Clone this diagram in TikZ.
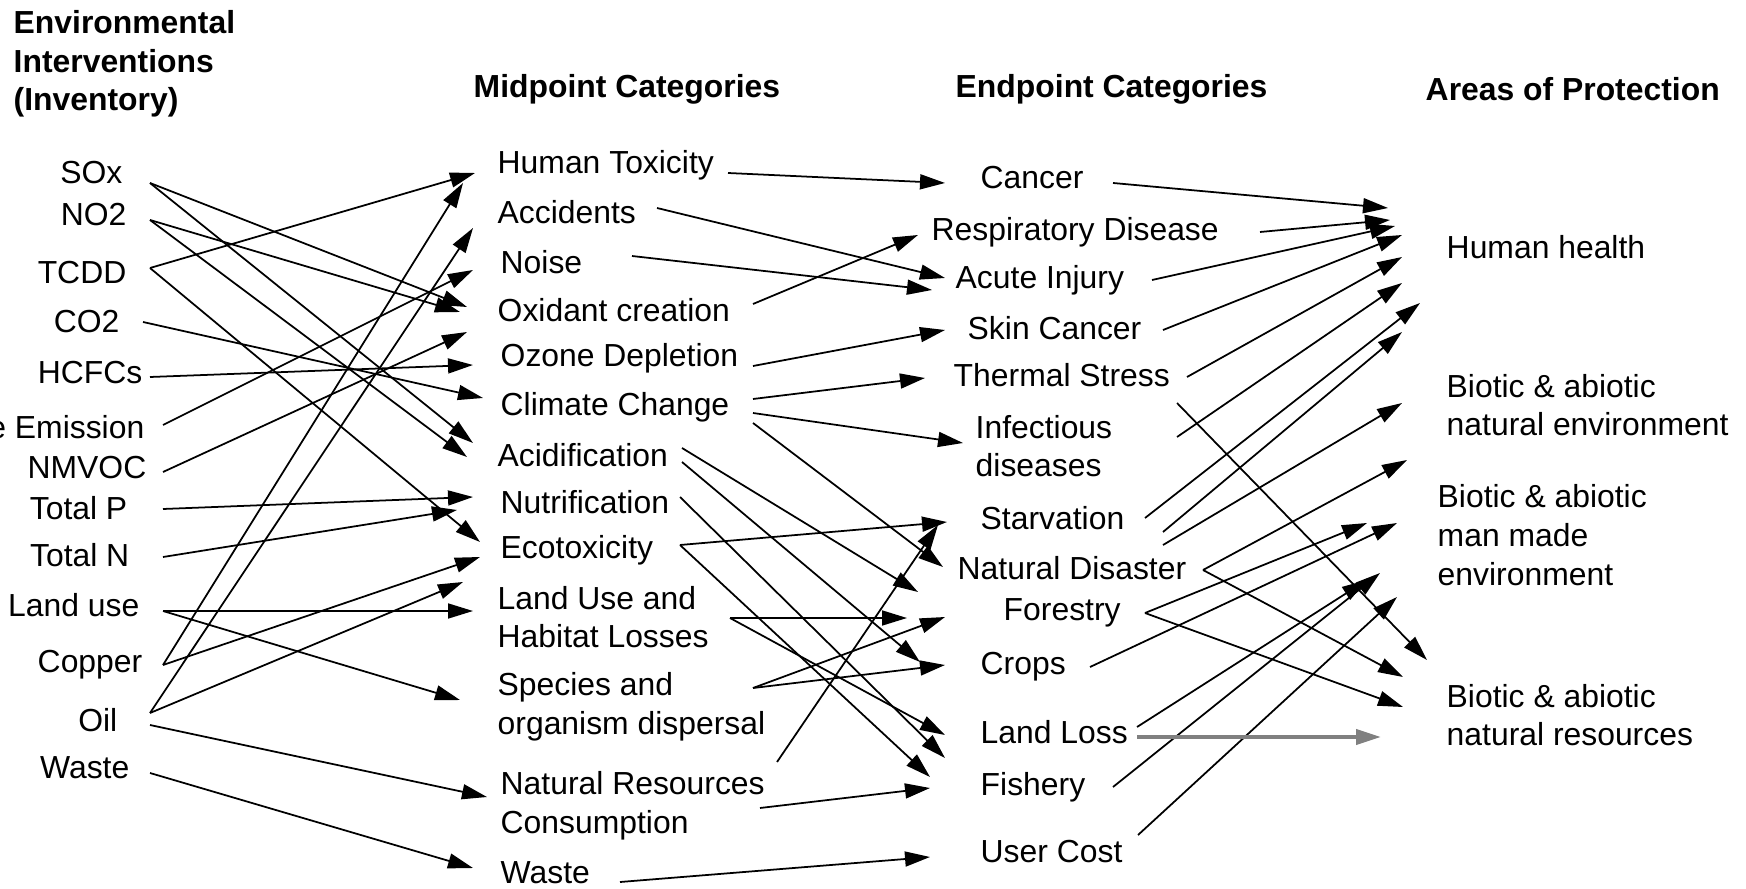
\documentclass[tikz,border=0pt]{standalone}
\usepackage{fontspec}
\setmainfont{Liberation Sans}
\usetikzlibrary{arrows.meta,calc}

\begin{document}
\begin{tikzpicture}[x=0.1mm,y=-0.1mm,
  font=\fontsize{9.07}{11}\selectfont,
  lbl/.style={inner sep=0pt,align=left},
  head/.style={inner sep=0pt,align=left,font=\fontsize{9.07}{11}\selectfont\bfseries},
  arr/.style={-{Triangle[length=2.5mm,width=1.5mm]},line width=0.5pt}]
\useasboundingbox (0,0) rectangle (1746,889);

% headings
\node[head,anchor=west] (invhead) at (13,64) {Environmental\\Interventions\\(Inventory)};
\node[head,anchor=west] (midhead) at (473,89) {Midpoint Categories};
\node[head,anchor=west] (endhead) at (955,89) {Endpoint Categories};
\node[head,anchor=west] (aophead) at (1425,89) {Areas of Protection};

% inventory
\node[lbl,anchor=east] (sox) at (123,173) {SOx};
\node[lbl,anchor=east] (notwo) at (127,215) {NO2};
\node[lbl,anchor=east] (tcdd) at (127,273) {TCDD};
\node[lbl,anchor=east] (cotwo) at (120,322) {CO2};
\node[lbl,anchor=east] (hcfc) at (143,373) {HCFCs};
\node[lbl,anchor=east] (noiseem) at (145,427) {e Emission};
\node[lbl,anchor=east] (nmvoc) at (147,468) {NMVOC};
\node[lbl,anchor=east] (totp) at (128,508) {Total P};
\node[lbl,anchor=east] (totn) at (130,555) {Total N};
\node[lbl,anchor=east] (landuse) at (140,605) {Land use};
\node[lbl,anchor=east] (copper) at (143,665) {Copper};
\node[lbl,anchor=east] (oil) at (118,720) {Oil};
\node[lbl,anchor=east] (wastein) at (130,768) {Waste};

% midpoints
\node[lbl,anchor=west] (ht) at (497,165) {Human Toxicity};
\node[lbl,anchor=west] (acc) at (497,212) {Accidents};
\node[lbl,anchor=west] (noise) at (500,262) {Noise};
\node[lbl,anchor=west] (oxid) at (497,310) {Oxidant creation};
\node[lbl,anchor=west] (ozone) at (500,358) {Ozone Depletion};
\node[lbl,anchor=west] (climate) at (500,407) {Climate Change};
\node[lbl,anchor=west] (acid) at (497,455) {Acidification};
\node[lbl,anchor=west] (nutri) at (500,502) {Nutrification};
\node[lbl,anchor=west] (ecotox) at (500,550) {Ecotoxicity};
\node[lbl,anchor=west] (luse) at (497,617) {Land Use and\\Habitat Losses};
\node[lbl,anchor=west] (species) at (497,707) {Species and\\organism dispersal};
\node[lbl,anchor=west] (natres) at (500,806) {Natural Resources\\Consumption};
\node[lbl,anchor=west] (wastemid) at (500,873) {Waste};

% endpoints
\node[lbl,anchor=west] (cancer) at (980,178) {Cancer};
\node[lbl,anchor=west] (resp) at (931,232) {Respiratory Disease};
\node[lbl,anchor=west] (acute) at (955,280) {Acute Injury};
\node[lbl,anchor=west] (skin) at (967,328) {Skin Cancer};
\node[lbl,anchor=west] (thermal) at (953,375) {Thermal Stress};
\node[lbl,anchor=west] (infect) at (975,446) {Infectious\\diseases};
\node[lbl,anchor=west] (starv) at (980,518) {Starvation};
\node[lbl,anchor=west] (natdis) at (957,568) {Natural Disaster};
\node[lbl,anchor=west] (forestry) at (1003,613) {Forestry};
\node[lbl,anchor=west] (crops) at (980,667) {Crops};
\node[lbl,anchor=west] (landloss) at (980,732) {Land Loss};
\node[lbl,anchor=west] (fishery) at (980,787) {Fishery};
\node[lbl,anchor=west] (usercost) at (980,852) {User Cost};

% areas of protection
\node[lbl,anchor=west] (hh) at (1446,247) {Human health};
\node[lbl,anchor=west] (natenv) at (1446,405) {Biotic \& abiotic\\natural environment};
\node[lbl,anchor=west] (manmade) at (1437,535) {Biotic \& abiotic\\man made\\environment};
\node[lbl,anchor=west] (natres4) at (1446,715) {Biotic \& abiotic\\natural resources};

% inventory -> midpoints
\draw[arr] ($(sox.east)+(27,10)$) -- ($(oxid.west)+(-30,-3)$);
\draw[arr] ($(sox.east)+(27,10)$) -- ($(acid.west)+(-24,-12)$);
\draw[arr] ($(notwo.east)+(23,5)$) -- ($(oxid.west)+(-37,2)$);
\draw[arr] ($(notwo.east)+(23,5)$) -- ($(acid.west)+(-30,2)$);
\draw[arr] ($(tcdd.east)+(23,-5)$) -- ($(ht.west)+(-22,8)$);
\draw[arr] ($(tcdd.east)+(23,-5)$) -- ($(ecotox.west)+(-20,-8)$);
\draw[arr] ($(cotwo.east)+(23,0)$) -- ($(climate.west)+(-17,-9)$);
\draw[arr] ($(hcfc.east)+(7,4)$) -- ($(ozone.west)+(-27,7)$);
\draw[arr] ($(noiseem.east)+(18,-2)$) -- ($(noise.west)+(-27,8)$);
\draw[arr] ($(nmvoc.east)+(16,4)$) -- ($(oxid.west)+(-30,22)$);
\draw[arr] ($(totp.east)+(35,1)$) -- ($(nutri.west)+(-27,-5)$);
\draw[arr] ($(totn.east)+(33,2)$) -- ($(nutri.west)+(-43,8)$);
\draw[arr] ($(landuse.east)+(23,6)$) -- ($(luse.west)+(-24,-6)$);
\draw[arr] ($(landuse.east)+(23,6)$) -- ($(species.west)+(-37,-7)$);
\draw[arr] ($(copper.east)+(20,0)$) -- ($(ht.west)+(-34,18)$);
\draw[arr] ($(copper.east)+(20,0)$) -- ($(ecotox.west)+(-20,7)$);
\draw[arr] ($(oil.east)+(32,-7)$) -- ($(acc.west)+(-24,16)$);
\draw[arr] ($(oil.east)+(32,-7)$) -- ($(ecotox.west)+(-37,32)$);
\draw[arr] ($(oil.east)+(32,5)$) -- ($(natres.west)+(-13,-9)$);
\draw[arr] ($(wastein.east)+(20,5)$) -- ($(wastemid.west)+(-27,-5)$);

% midpoints -> endpoints
\draw[arr] ($(ht.west)+(231,8)$) -- ($(cancer.west)+(-35,5)$);
\draw[arr] ($(acc.west)+(160,-4)$) -- ($(acute.west)+(-10,-2)$);
\draw[arr] ($(noise.west)+(132,-6)$) -- ($(acute.west)+(-23,10)$);
\draw[arr] ($(oxid.west)+(256,-6)$) -- ($(resp.west)+(-13,3)$);
\draw[arr] ($(ozone.west)+(253,8)$) -- ($(skin.west)+(-22,2)$);
\draw[arr] ($(climate.west)+(253,-8)$) -- ($(thermal.west)+(-28,3)$);
\draw[arr] ($(climate.west)+(253,6)$) -- ($(infect.west)+(-12,-3)$);
\draw[arr] ($(climate.west)+(253,16)$) -- ($(natdis.west)+(-14,-1)$);
\draw[arr] ($(acid.west)+(185,-7)$) -- ($(natdis.west)+(-39,24)$);
\draw[arr] ($(acid.west)+(185,7)$) -- ($(crops.west)+(-60,-5)$);
\draw[arr] ($(nutri.west)+(180,-5)$) -- ($(fishery.west)+(-35,-29)$);
\draw[arr] ($(ecotox.west)+(180,-5)$) -- ($(starv.west)+(-33,4)$);
\draw[arr] ($(ecotox.west)+(180,-5)$) -- ($(fishery.west)+(-50,-10)$);
\draw[arr] ($(luse.west)+(233,1)$) -- ($(forestry.west)+(-96,5)$);
\draw[arr] ($(luse.west)+(233,1)$) -- ($(landloss.west)+(-35,3)$);
\draw[arr] ($(species.west)+(256,-19)$) -- ($(forestry.west)+(-58,4)$);
\draw[arr] ($(species.west)+(256,-19)$) -- ($(crops.west)+(-35,-2)$);
\draw[arr] ($(natres.west)+(277,-44)$) -- ($(starv.west)+(-42,7)$);
\draw[arr] ($(natres.west)+(260,2)$) -- ($(fishery.west)+(-50,1)$);
\draw[arr] ($(wastemid.west)+(120,9)$) -- ($(usercost.west)+(-50,5)$);

% endpoints -> areas of protection
\draw[arr] ($(cancer.west)+(133,5)$) -- ($(hh.west)+(-58,-39)$);
\draw[arr] ($(resp.west)+(329,0)$) -- ($(hh.west)+(-56,-27)$);
\draw[arr] ($(acute.west)+(197,0)$) -- ($(hh.west)+(-51,-21)$);
\draw[arr] ($(skin.west)+(196,2)$) -- ($(hh.west)+(-44,-12)$);
\draw[arr] ($(thermal.west)+(234,2)$) -- ($(hh.west)+(-44,10)$);
\draw[arr] ($(infect.west)+(202,-9)$) -- ($(hh.west)+(-44,36)$);
\draw[arr] ($(starv.west)+(165,0)$) -- ($(hh.west)+(-26,56)$);
\draw[arr] ($(starv.west)+(183,14)$) -- ($(hh.west)+(-44,85)$);
\draw[arr] ($(starv.west)+(183,27)$) -- ($(natenv.west)+(-44,-2)$);
\draw[arr] ($(thermal.west)+(224,28)$) -- ($(natres4.west)+(-19,-55)$);
\draw[arr] ($(natdis.west)+(246,2)$) -- ($(natenv.west)+(-39,55)$);
\draw[arr] ($(natdis.west)+(246,2)$) -- ($(natres4.west)+(-43,-38)$);
\draw[arr] ($(forestry.west)+(142,0)$) -- ($(manmade.west)+(-70,-12)$);
\draw[arr] ($(forestry.west)+(142,0)$) -- ($(natres4.west)+(-43,-8)$);
\draw[arr] ($(crops.west)+(110,0)$) -- ($(manmade.west)+(-40,-12)$);
\draw[arr] ($(landloss.west)+(157,-5)$) -- ($(manmade.west)+(-70,45)$);
\draw[arr] ($(fishery.west)+(133,0)$) -- ($(manmade.west)+(-57,38)$);
\draw[arr] ($(usercost.west)+(158,-17)$) -- ($(manmade.west)+(-40,62)$);
\draw[arr,gray,line width=1.1pt] ($(landloss.west)+(157,5)$) -- ($(natres4.west)+(-65,22)$);
\end{tikzpicture}
\end{document}
